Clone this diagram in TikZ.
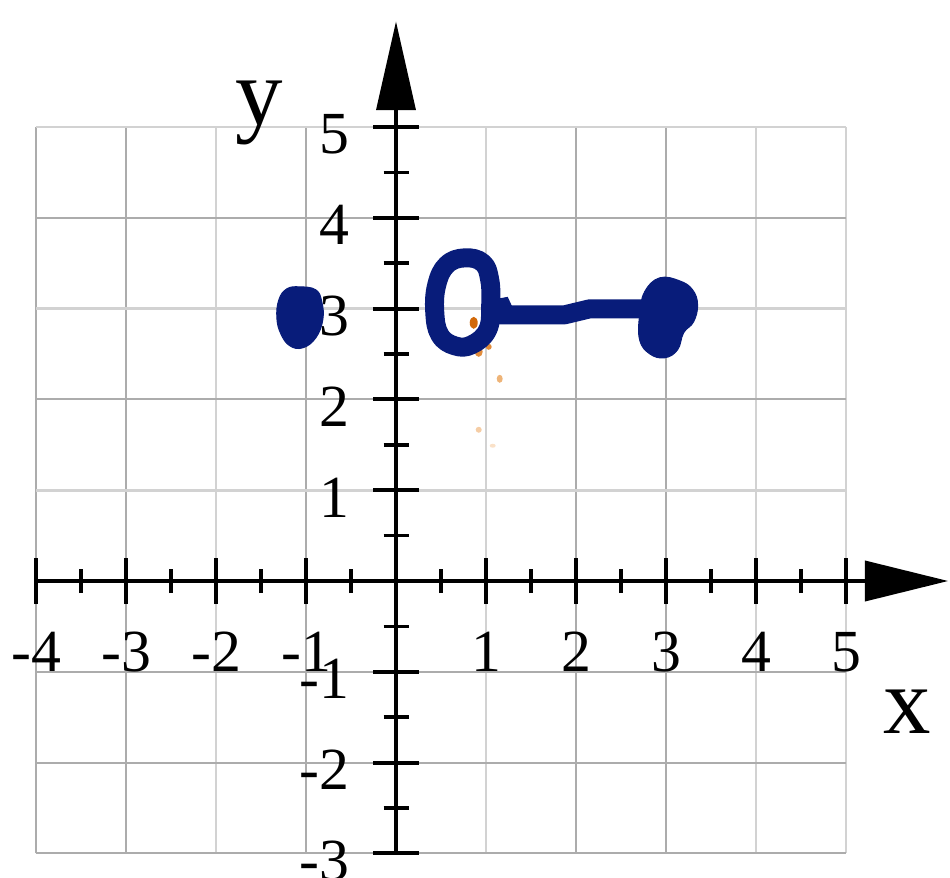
\documentclass[tikz,border=0pt]{standalone}
\usepackage{fontspec}
\setmainfont{Liberation Serif}
\definecolor{griddark}{RGB}{172,172,172}
\definecolor{gridlight}{RGB}{210,210,210}
\definecolor{inkblue}{RGB}{8,28,122}
\definecolor{orangeA}{RGB}{210,105,10}
\definecolor{orangeB}{RGB}{225,140,60}
\definecolor{orangeC}{RGB}{238,180,120}
\definecolor{orangeD}{RGB}{245,205,165}
\definecolor{orangeE}{RGB}{250,225,200}
\begin{document}
\begin{tikzpicture}[x=0.9cm,y=0.908cm,
  gridd/.style={draw=griddark,line width=0.02cm},
  gridl/.style={draw=gridlight,line width=0.028cm},
  axisline/.style={line width=0.045cm,draw=black},
  majortick/.style={line width=0.04cm,draw=black},
  minortick/.style={line width=0.035cm,draw=black},
  numlab/.style={font=\fontsize{17}{20}\selectfont,inner sep=0pt},
  axlab/.style={font=\fontsize{27}{30}\selectfont,inner sep=0pt},
  ink/.style={fill=inkblue,draw=inkblue,line width=0.01cm},
  inkline/.style={draw=inkblue,line width=0.19cm,line join=round}]
\useasboundingbox (-3.96cm,-2.96cm) rectangle (5.54cm,5.81cm);
% grid
\foreach \x in {-4,-3,-1,2,3} \draw[gridd] (\x,-3) -- (\x,5);
\foreach \x in {-2,1,4,5} \draw[gridl] (\x,-3) -- (\x,5);
\foreach \y in {4,2,-1,-2,-3} \draw[gridd] (-4,\y) -- (5,\y);
\foreach \y in {5,3,1} \draw[gridl] (-4,\y) -- (5,\y);
% axes
\coordinate (xstart) at (-4,0);
\coordinate (xbase) at (5.211,0);
\coordinate (ystart) at (0,-3);
\coordinate (ybase) at (0,5.187);
\draw[axisline] (xstart) -- (xbase);
\draw[axisline] (ystart) -- (ybase);
\fill[black] (5.211,0.226) -- (6.133,0) -- (5.211,-0.226) -- cycle;
\fill[black] (-0.222,5.187) -- (0,6.160) -- (0.222,5.187) -- cycle;
% ticks
\foreach \x in {-4,-3,-2,-1,1,2,3,4,5} \draw[majortick] (\x,0) ++(0,-0.23cm) -- ++(0,0.46cm);
\foreach \x in {-3.5,-2.5,-1.5,-0.5,0.5,1.5,2.5,3.5,4.5} \draw[minortick] (\x,0) ++(0,-0.12cm) -- ++(0,0.24cm);
\foreach \y in {-3,-2,-1,1,2,3,4,5} \draw[majortick] (0,\y) ++(-0.23cm,0) -- ++(0.46cm,0);
\foreach \y in {-2.5,-1.5,-0.5,0.5,1.5,2.5,3.5,4.5} \draw[minortick] (0,\y) ++(-0.125cm,0) -- ++(0.25cm,0);
% labels
\foreach \x [count=\i] in {-4,-3,-2,-1,1,2,3,4,5}
  \node[numlab,anchor=base] (xl\i) at (\x,-1.002) {\x};
\foreach \y [count=\i] in {-3,-2,-1,1,2,3,4,5}
  \node[numlab,anchor=base east] (yl\i) at (-0.511,\y-0.297) {\y};
\node[axlab,anchor=base] (xname) at (5.678,-1.674) {x};
\node[axlab,anchor=base] (yname) at (-1.522,5.022) {y};
% ink marks (pixel coordinates)
\begin{scope}[shift={(-3.96cm,5.81cm)},x=0.01cm,y=-0.01cm]
  \fill[orangeE] (493,446) ellipse (3 and 2);
  \fill[orangeD] (479,430) ellipse (3 and 3);
  \fill[orangeC] (500,379) ellipse (3 and 4);
  \fill[orangeB] (479,352) ellipse (4 and 5);
  \fill[orangeB] (489,347) ellipse (3 and 3);
  \draw[ink] plot[smooth cycle,tension=0.7] coordinates {(300,287) (316,290) (322,302) (323,320) (316,338) (303,348) (290,346) (281,334) (277,318) (279,300) (287,289)};
  \draw[inkline] plot[smooth cycle,tension=0.7] coordinates {(465,258) (483,263) (490,280) (491,305) (488,330) (472,345) (455,346) (440,335) (435,312) (437,285) (447,265)};
  \draw[inkline] (488,315) -- (565,315) -- (590,309) -- (650,309);
  \fill[inkblue] (492,300) -- (508,297) -- (514,310) -- (492,312) -- cycle;
  \draw[ink] plot[smooth cycle,tension=0.7] coordinates {(660,278) (680,281) (693,290) (698,305) (694,322) (684,333) (678,350) (665,358) (650,354) (640,340) (640,315) (645,292)};
  \fill[orangeA] (474,323) ellipse (4 and 6);
\end{scope}
\end{tikzpicture}
\end{document}
